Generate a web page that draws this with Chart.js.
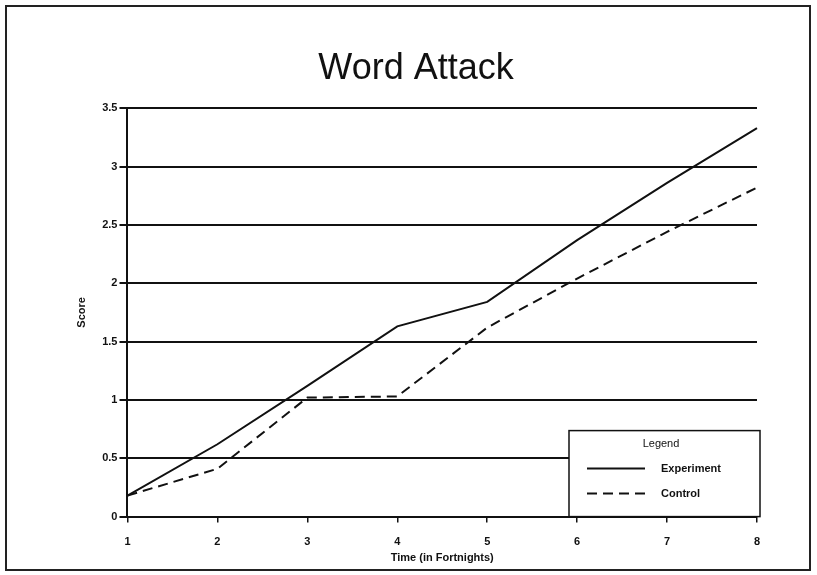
<!DOCTYPE html>
<html>
<head>
<meta charset="utf-8">
<script src="https://cdn.jsdelivr.net/npm/chart.js@4.4.0/dist/chart.umd.min.js"></script>
<style>
  html, body { margin: 0; padding: 0; background: #fff; }
  #wrap { width: 817px; height: 575px; }
</style>
</head>
<body>
<div id="wrap"><canvas id="myChart" width="817" height="575"></canvas></div>
<script>
var fortnights = ["1", "2", "3", "4", "5", "6", "7", "8"];
var experiment = [0.18, 0.62, 1.12, 1.63, 1.84, 2.37, 2.86, 3.33];
var control = [0.18, 0.41, 1.02, 1.03, 1.62, 2.04, 2.44, 2.82];
var yTicks = [0, 0.5, 1, 1.5, 2, 2.5, 3, 3.5];

var font = "'Liberation Sans', Arial, sans-serif";

// frame round the whole picture
const framePlugin = {
  id: "frame",
  beforeDraw(chart) {
    const c = chart.ctx;
    c.save();
    c.fillStyle = "#fff";
    c.fillRect(0, 0, chart.width, chart.height);
    c.strokeStyle = "#222";
    c.lineWidth = 2;
    c.strokeRect(6, 6, 804, 564);
    c.restore();
  },
};

// boxed legend sitting on the x axis, like the original
const boxLegend = {
  id: "boxLegend",
  afterDraw(chart) {
    const c = chart.ctx;
    const a = chart.chartArea;
    const right = a.right + 3;
    const left = right - 191;
    const top = a.bottom - 86;
    const bottom = a.bottom;
    c.save();
    c.fillStyle = "#fff";
    c.fillRect(left, top, right - left, bottom - top);
    c.strokeStyle = "#111";
    c.lineWidth = 1.5;
    c.strokeRect(left, top, right - left, bottom - top);
    c.fillStyle = "#111";
    c.font = "11px " + font;
    c.textAlign = "center";
    c.textBaseline = "middle";
    c.fillText("Legend", left + 92, top + 13);
    c.textAlign = "left";
    chart.data.datasets.forEach(function (ds, i) {
      const y = top + 38 + i * 25;
      c.beginPath();
      c.setLineDash(ds.borderDash || []);
      c.lineWidth = 2;
      c.moveTo(left + 18, y);
      c.lineTo(left + 76, y);
      c.stroke();
      c.setLineDash([]);
      c.font = "bold 11px " + font;
      c.fillText(ds.label, left + 92, y);
    });
    c.restore();
  },
};

var ctx = document.getElementById("myChart");
var myChart = new Chart(ctx, {
  type: "line",
  data: {
    labels: fortnights,
    datasets: [
      {
        label: "Experiment",
        data: experiment,
        borderColor: "#111",
        borderWidth: 2,
        pointRadius: 0,
        tension: 0,
        fill: false,
      },
      {
        label: "Control",
        data: control,
        borderColor: "#111",
        borderWidth: 2,
        borderDash: [10, 6],
        pointRadius: 0,
        tension: 0,
        fill: false,
      },
    ],
  },
  options: {
    responsive: false,
    animation: false,
    layout: { padding: { top: 25, left: 75, right: 60, bottom: 10 } },
    plugins: {
      legend: { display: false },
      tooltip: { enabled: false },
      title: {
        display: true,
        text: "Word Attack",
        color: "#111",
        font: { family: font, size: 36, weight: "normal" },
        padding: { top: 22, bottom: 18 },
      },
    },
    scales: {
      x: {
        offset: false,
        grid: { display: true, drawOnChartArea: false, color: "#111", lineWidth: 1.5, tickLength: 6 },
        border: { color: "#111", width: 2 },
        ticks: {
          color: "#111",
          font: { family: font, size: 11, weight: "bold" },
          padding: 13,
          maxRotation: 0,
        },
        title: {
          display: true,
          text: "Time (in Fortnights)",
          color: "#111",
          font: { family: font, size: 11, weight: "bold" },
          padding: { top: -10, bottom: 0 },
        },
      },
      y: {
        min: 0,
        max: 3.5,
        afterBuildTicks: function (axis) {
          axis.ticks = yTicks.map(function (v) { return { value: v }; });
        },
        grid: { color: "#111", lineWidth: 2, tickLength: 8 },
        border: { color: "#111", width: 2 },
        ticks: {
          color: "#111",
          font: { family: font, size: 11, weight: "bold" },
          padding: 2,
          callback: function (v) { return String(v); },
        },
        title: {
          display: true,
          text: "Score",
          color: "#111",
          font: { family: font, size: 11, weight: "bold" },
          padding: { top: 0, bottom: 12 },
        },
      },
    },
  },
  plugins: [framePlugin, boxLegend],
});
</script>
</body>
</html>
